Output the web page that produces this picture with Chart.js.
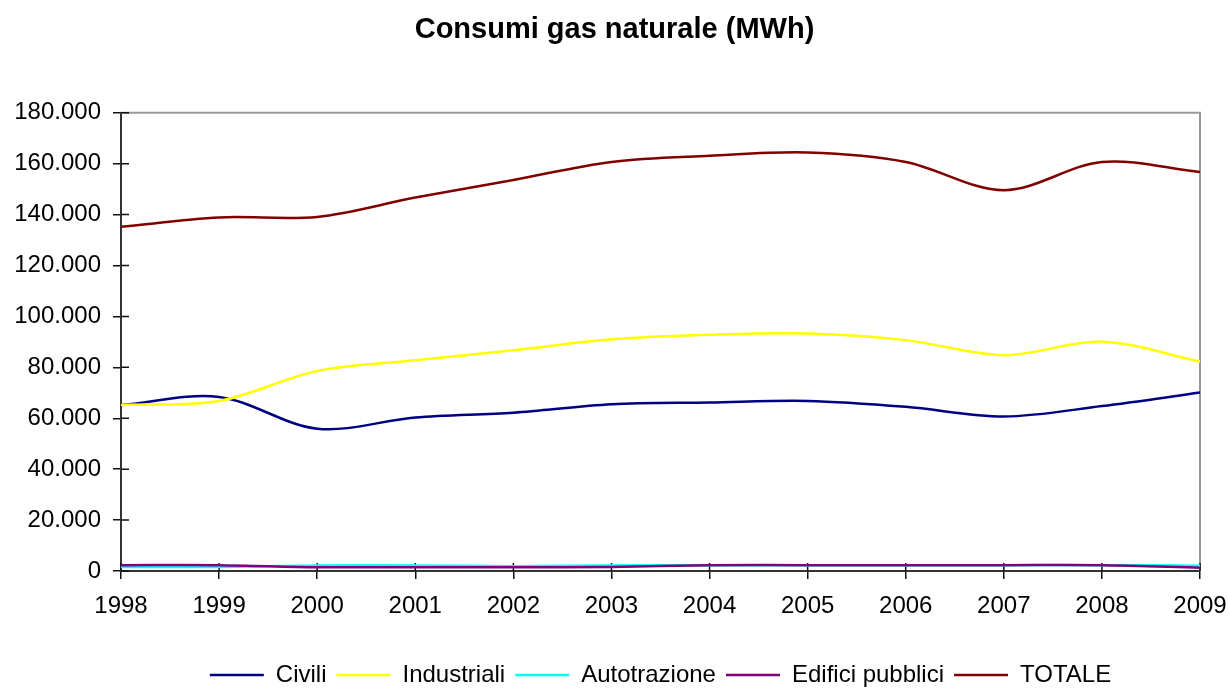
<!DOCTYPE html>
<html>
<head>
<meta charset="utf-8">
<script src="https://cdn.jsdelivr.net/npm/chart.js@4.4.1/dist/chart.umd.min.js"></script>
<style>
  html, body { margin: 0; padding: 0; background: #fff; }
</style>
</head>
<body>
<canvas id="gas-chart" width="1229" height="688"></canvas>
<script>
// ── DATA (MWh) ───────────────────────────────────────────────
const years = ['1998', '1999', '2000', '2001', '2002', '2003', '2004', '2005', '2006', '2007', '2008', '2009'];

const civili       = [65200, 68400, 55900, 60300, 62200, 65500, 66200, 66800, 64500, 60700, 64800, 70100];
const industriali  = [65200, 66800, 78600, 82800, 86700, 91000, 92800, 93300, 90700, 84800, 90100, 82300];
const autotrazione = [1600, 1600, 2200, 2200, 1900, 2200, 2300, 2300, 2300, 2300, 2300, 2100];
const edifici      = [2300, 2300, 1500, 1500, 1500, 1600, 2300, 2300, 2300, 2300, 2300, 1300];
const totale       = [135200, 138900, 139100, 146700, 153600, 160700, 163100, 164400, 160700, 149600, 160700, 156700];

const yTicks = { min: 0, max: 180000, step: 20000 };

// ── STYLE ────────────────────────────────────────────────────
Chart.defaults.font.family = '"Liberation Sans", Arial, sans-serif';
Chart.defaults.font.size   = 24;
Chart.defaults.color       = '#000';

const fmt = v => String(v).replace(/\B(?=(\d{3})+(?!\d))/g, '.');

function series(label, data, color, order) {
  return {
    label, data, order,
    borderColor:     color,
    backgroundColor: color,
    borderWidth:     2.5,
    pointRadius:     0,
    pointHoverRadius: 0,
    tension:         0.33,
    fill:            false,
  };
}

// plot frame (grey top/right) + inner half of the crossing tick marks
const frame = {
  id: 'frame',
  beforeDatasetsDraw(chart) {
    const { ctx, chartArea: a, scales: { x, y } } = chart;
    ctx.save();
    ctx.strokeStyle = '#999';
    ctx.lineWidth = 2;
    ctx.beginPath();
    ctx.moveTo(a.left, a.top);
    ctx.lineTo(a.right, a.top);
    ctx.lineTo(a.right, a.bottom);
    ctx.stroke();

    ctx.strokeStyle = '#111';
    ctx.lineWidth = 1.5;
    ctx.beginPath();
    y.ticks.forEach((t, i) => {
      const py = y.getPixelForTick(i);
      ctx.moveTo(a.left, py); ctx.lineTo(a.left + 8, py);
    });
    x.ticks.forEach((t, i) => {
      const px = x.getPixelForTick(i);
      ctx.moveTo(px, a.bottom); ctx.lineTo(px, a.bottom - 8);
    });
    ctx.stroke();
    ctx.restore();
  }
};

new Chart(document.getElementById('gas-chart'), {
  type: 'line',
  data: {
    labels: years,
    datasets: [
      series('Civili',            civili,       '#000080', 5),
      series('Industriali',       industriali,  '#FFFF00', 4),
      series('Autotrazione',      autotrazione, '#00FFFF', 3),
      series('Edifici pubblici',  edifici,      '#800080', 2),
      series('TOTALE',            totale,       '#800000', 1),
    ]
  },
  options: {
    responsive: false,
    animation: false,
    devicePixelRatio: 1,
    layout: { padding: { left: 0, right: 0, top: 0, bottom: -9 } },
    plugins: {
      title: {
        display: true,
        text: 'Consumi gas naturale (MWh)',
        font: { size: 29, weight: 'bold' },
        color: '#000',
        padding: { top: 13, bottom: 65 },
      },
      legend: {
        position: 'bottom',
        fullSize: false,
        reverse: true,
        labels: {
          usePointStyle: true,
          pointStyle: 'line',
          pointStyleWidth: 54,
          padding: 10,
          font: { size: 24 },
          color: '#000',
        }
      },
      tooltip: { enabled: false }
    },
    scales: {
      x: {
        offset: false,
        grid: { drawOnChartArea: false, drawTicks: true, tickLength: 8, color: '#111', lineWidth: 1.5 },
        border: { display: true, color: '#333', width: 2 },
        ticks: { padding: 13, maxRotation: 0, autoSkip: false, font: { size: 24 } },
        afterFit: s => { s.height = 82; s.paddingLeft = 0; s.paddingRight = 29; }
      },
      y: {
        min: yTicks.min,
        max: yTicks.max,
        grid: { drawOnChartArea: false, drawTicks: true, tickLength: 8, color: '#111', lineWidth: 1.5 },
        border: { display: true, color: '#333', width: 2 },
        ticks: { stepSize: yTicks.step, padding: 12, callback: v => fmt(v), font: { size: 24 } },
        afterFit: s => { s.width = 121; }
      }
    }
  },
  plugins: [frame]
});
</script>
</body>
</html>
